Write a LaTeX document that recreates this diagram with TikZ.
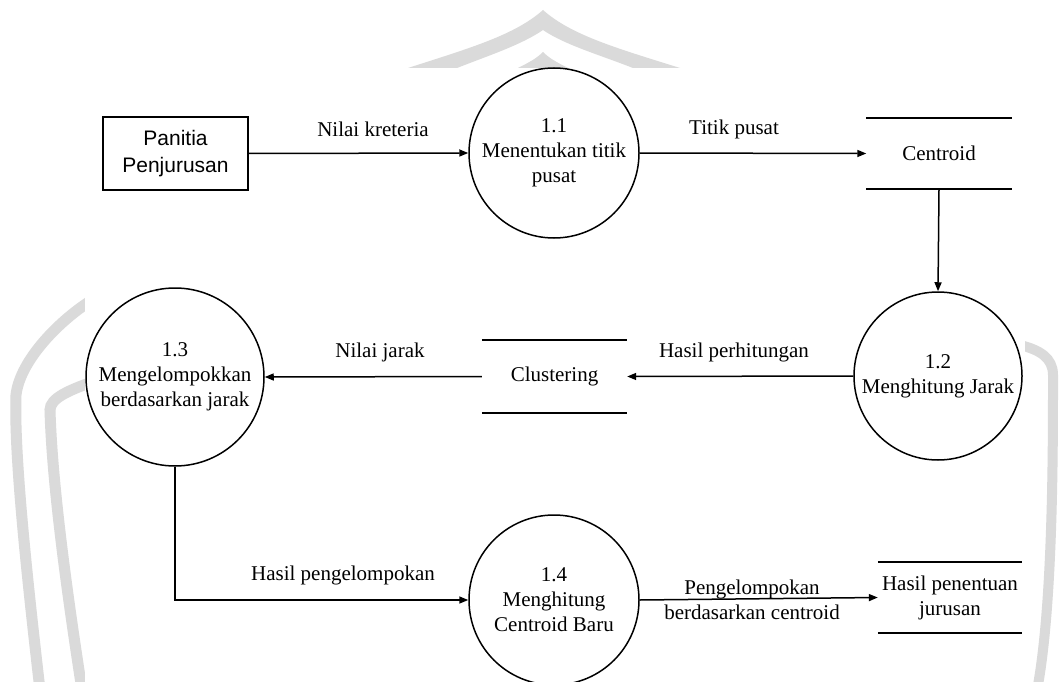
\documentclass[tikz,border=0pt]{standalone}
\usepackage{fontspec}
\setmainfont{Liberation Serif}
\newfontfamily\arialfont{Liberation Sans}
\usetikzlibrary{arrows.meta}
\definecolor{wmgray}{RGB}{218,218,218}
\begin{document}
\begin{tikzpicture}[x=1pt,y=-1pt,
  txt/.style={font=\fontsize{21}{25}\selectfont},
  proc/.style={circle, draw, line width=1.5pt, inner sep=0pt, minimum size=170pt, align=center, txt},
  store/.style={inner sep=0pt, minimum width=145pt, minimum height=71pt, align=center, txt},
  ent/.style={rectangle, draw, line width=1.5pt, inner sep=0pt, minimum width=145pt, minimum height=73pt, align=center, font=\arialfont\fontsize{21}{27}\selectfont},
  lbl/.style={inner sep=0pt, align=center, txt},
  flow/.style={line width=1.5pt, -{Triangle[length=9pt,width=7pt]}},
  storeline/.style={line width=1.5pt},
  band/.style={draw=wmgray, line width=11pt}
]
\useasboundingbox (0,0) rectangle (1062,682);
\fill[white] (0,0) rectangle (1062,682);
% watermark
\fill[wmgray] (408,68) .. controls (470,48) and (515,35) .. (543,10) .. controls (571,35) and (616,48) .. (680,68) -- (633,68) .. controls (600,55) and (565,45) .. (543,30) .. controls (521,45) and (490,55) .. (457,68) -- cycle;
\fill[wmgray] (518,68) .. controls (530,62) and (537,58) .. (543,52) .. controls (549,58) and (556,62) .. (568,68) -- cycle;
\path[band] (92,300) .. controls (60,320) and (20,360) .. (16,395) .. controls (14,450) and (25,560) .. (40,690);
\path[band] (92,382) .. controls (70,390) and (50,398) .. (50,410) .. controls (52,480) and (65,580) .. (82,690);
\path[band, line width=10pt] (1020,345) .. controls (1040,350) and (1053,358) .. (1053,375) .. controls (1053,450) and (1053,600) .. (1038,685);
\fill[white] (85,68) rectangle (1025,682);

% nodes
\node[ent] (pan) at (175.5,153.5) {Panitia\\Penjurusan};
\node[proc] (p11) at (554,153) {1.1\\Menentukan titik\\pusat};
\node[store] (cen) at (939,153.5) {Centroid};
\node[proc, minimum size=168pt] (p12) at (938,376) {1.2\\Menghitung Jarak};
\node[store, minimum height=73pt] (clu) at (554.5,376.5) {Clustering};
\node[proc, minimum size=178pt] (p13) at (175,377) {1.3\\Mengelompokkan\\berdasarkan jarak};
\node[proc] (p14) at (554,600) {1.4\\Menghitung\\Centroid Baru};
\node[store, minimum width=144pt] (hpj) at (950,597.5) {Hasil penentuan\\jurusan};

% store lines
\draw[storeline] (cen.north west) -- (cen.north east);
\draw[storeline] (cen.south west) -- (cen.south east);
\draw[storeline] (clu.north west) -- (clu.north east);
\draw[storeline] (clu.south west) -- (clu.south east);
\draw[storeline] (hpj.north west) -- (hpj.north east);
\draw[storeline] (hpj.south west) -- (hpj.south east);

% flows
\draw[flow] (pan.east) -- (p11.west);
\draw[flow] (p11.east) -- (cen.west);
\draw[flow] (cen.south) -- (p12.north);
\draw[flow] (p12.west) -- (clu.east);
\draw[flow] (clu.west) -- (p13.east);
\draw[flow] (p13.south) |- (p14.west);
\draw[flow] (p14.east) -- (hpj.west);

% labels
\node[lbl] (l1) at (373,129) {Nilai kreteria};
\node[lbl] (l2) at (734,129) {Titik pusat};
\node[lbl] (l3) at (734,352) {Hasil perhitungan};
\node[lbl] (l4) at (380,352) {Nilai jarak};
\node[lbl] (l5) at (343,575) {Hasil pengelompokan};
\node[lbl] (l6) at (752,600) {Pengelompokan\\berdasarkan centroid};
\end{tikzpicture}
\end{document}
